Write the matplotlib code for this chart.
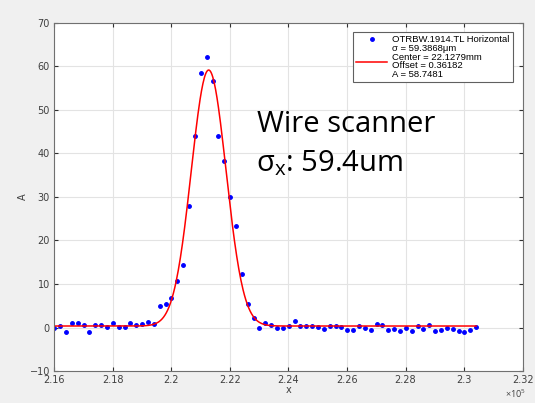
import numpy as np
import matplotlib.pyplot as plt

plt.rcParams["mathtext.fontset"] = "custom"
plt.rcParams["mathtext.rm"] = "Open Sans"

# scan positions (0.1 um units) and measured amplitude
x_start = 216010
x_step = 200
amp = [-0.1, 0.3, -1.05, 0.94, 0.94, 0.62, -0.9, 0.6, 0.6, 0.15,
       0.94, 0.15, 0.15, 1.1, 0.7, 0.78, 1.27, 0.78, 4.9, 5.3,
       6.8, 10.6, 14.4, 28.0, 44.0, 58.4, 62.2, 56.7, 43.9, 38.2,
       30.0, 23.3, 12.4, 5.3, 2.2, -0.07, 1.08, 0.62, -0.07, -0.07,
       0.39, 1.54, 0.32, 0.32, 0.39, 0.16, -0.21, 0.25, 0.32, 0.16,
       -0.44, -0.6, 0.39, -0.07, -0.44, 0.85, 0.48, -0.53, -0.3, -0.67,
       -0.07, -0.83, 0.32, -0.21, 0.62, -0.67, -0.6, -0.07, -0.21, -0.76,
       -1.12, -0.44, 0.09]
pos = x_start + x_step * np.arange(len(amp))

# gaussian fit parameters shown in the legend
fit_sigma = 593.868
fit_center = 221279
fit_offset = 0.36182
fit_A = 58.7481

xticks = [216000, 218000, 220000, 222000, 224000, 226000, 228000, 230000, 232000]
xticklabels = ["2.16", "2.18", "2.2", "2.22", "2.24", "2.26", "2.28", "2.3", "2.32"]
yticks = [-10, 0, 10, 20, 30, 40, 50, 60, 70]

fig = plt.figure(figsize=(5.35, 4.03), dpi=100, facecolor="#f0f0f0")
ax = fig.add_axes([0.101, 0.079, 0.876, 0.865])

xf = np.linspace(pos[0], pos[-1], 600)
yf = fit_offset + fit_A * np.exp(-(xf - fit_center) ** 2 / (2 * fit_sigma ** 2))

ax.plot(pos, amp, ".", color="blue", ms=5, label="OTRBW.1914.TL Horizontal")
ax.plot(xf, yf, color="red", lw=1.1,
        label="\u03c3 = 59.3868\u03bcm\nCenter = 22.1279mm\nOffset = 0.36182\nA = 58.7481")

ax.set_xlim(216000, 232000)
ax.set_ylim(-10, 70)
ax.set_xticks(xticks)
ax.set_xticklabels(xticklabels)
ax.set_yticks(yticks)
ax.grid(True, color="#e3e3e3", lw=0.8)
ax.set_axisbelow(True)
ax.tick_params(direction="in", length=3, top=True, right=True, labelsize=7,
               labelcolor="#404040", color="#303030", pad=3)
for s in ax.spines.values():
    s.set_color("#707070")
    s.set_linewidth(0.8)

ax.set_xlabel("x", fontsize=7, color="#404040", labelpad=0)
ax.set_ylabel("A", fontsize=7, color="#404040", labelpad=1)
fig.text(0.963, 0.022, "$\\times10^5$", fontsize=6.5, color="#404040",
         ha="center", va="center")

leg = ax.legend(loc="upper right", handlelength=3.3, handletextpad=0.5,
                borderpad=0.35, labelspacing=0.0, fancybox=False, framealpha=1,
                edgecolor="#606060", bbox_to_anchor=(0.979, 0.973), borderaxespad=0,
                prop={"family": "Liberation Sans", "size": 6.8})
leg.get_frame().set_linewidth(0.8)
for t in leg.get_texts():
    t.set_linespacing(0.92)

ax.text(0.433, 0.686, "Wire scanner", transform=ax.transAxes, fontsize=21,
        family="Open Sans", color="black")
ax.text(0.431, 0.574, "\u03c3$_\\mathrm{x}$: 59.4um", transform=ax.transAxes, fontsize=21,
        family="Open Sans", color="black")

fig.savefig("out.png", dpi=100, facecolor=fig.get_facecolor())
